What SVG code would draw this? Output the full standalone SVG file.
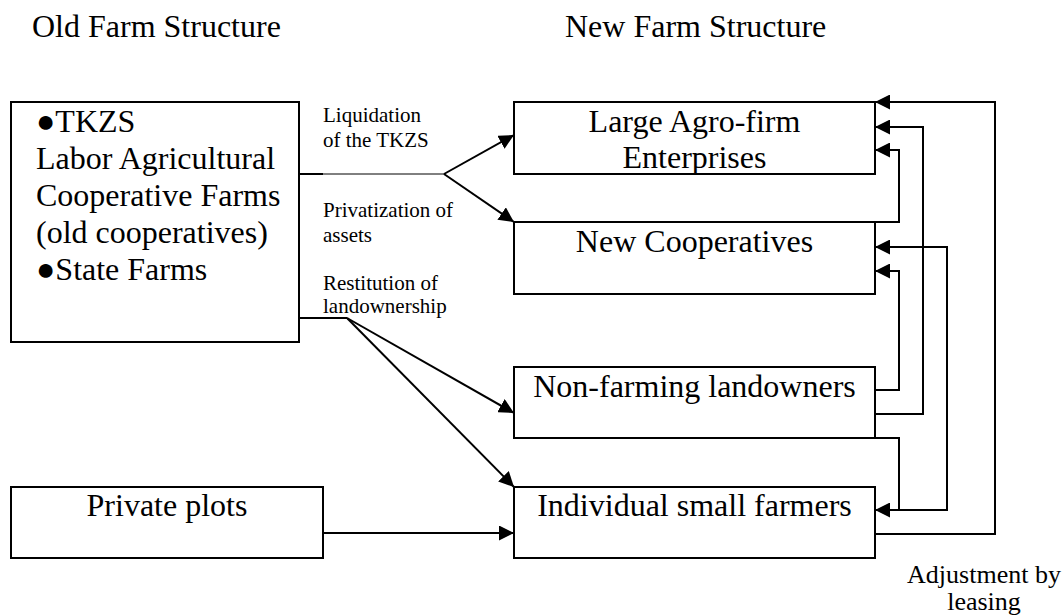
<svg xmlns="http://www.w3.org/2000/svg" width="1064" height="616" viewBox="0 0 1064 616">
<style>
.box{fill:#fff;stroke:#000;stroke-width:2}
.t{font-family:"Liberation Serif","Times New Roman",serif;font-size:32px;fill:#000}
.c{text-anchor:middle}
.s{font-family:"Liberation Serif","Times New Roman",serif;font-size:21px;fill:#000}
.a{font-family:"Liberation Serif","Times New Roman",serif;font-size:26px;fill:#000;text-anchor:middle}
.ln{fill:none;stroke:#000;stroke-width:2}
.arr{marker-end:url(#ah)}
</style>
<defs>
<marker id="ah" markerUnits="userSpaceOnUse" markerWidth="15" markerHeight="15" refX="15" refY="7.5" orient="auto" viewBox="0 0 15 15">
<path d="M0,0 L15,7.5 L0,15 z" fill="#000"/>
</marker>
</defs>
<rect width="1064" height="616" fill="#fff"/>
<text class="t" x="32" y="37">Old Farm Structure</text>
<text class="t" x="565" y="37">New Farm Structure</text>

<g id="old">
<rect class="box" x="11" y="102" width="288" height="240"/>
<text class="t" x="36" y="132">●TKZS</text>
<text class="t" x="36" y="169">Labor Agricultural</text>
<text class="t" x="36" y="206">Cooperative Farms</text>
<text class="t" x="36" y="243">(old cooperatives)</text>
<text class="t" x="36" y="280">●State Farms</text>
</g>
<g id="private">
<rect class="box" x="11" y="487" width="312" height="71"/>
<text class="t c" x="167" y="516">Private plots</text>
</g>
<g id="large">
<rect class="box" x="514" y="102" width="361" height="72"/>
<text class="t c" x="694.5" y="132">Large Agro-firm</text>
<text class="t c" x="694.5" y="168">Enterprises</text>
</g>
<g id="newcoop">
<rect class="box" x="514" y="222" width="361" height="72"/>
<text class="t c" x="694.5" y="252">New Cooperatives</text>
</g>
<g id="nonfarm">
<rect class="box" x="514" y="367" width="361" height="71"/>
<text class="t c" x="694.5" y="397">Non-farming landowners</text>
</g>
<g id="indiv">
<rect class="box" x="514" y="487" width="361" height="71"/>
<text class="t c" x="694.5" y="516">Individual small farmers</text>
</g>

<g id="connectors">
<path class="ln" d="M299,174 H323"/>
<path fill="none" stroke="#000" stroke-width="1" d="M323,174 H444"/>
<path class="ln arr" d="M444,174 L514,135"/>
<path class="ln arr" d="M444,174 L514,222"/>
<path class="ln" d="M299,318 H347"/>
<path class="ln arr" d="M347,318 L514,413"/>
<path class="ln arr" d="M347,318 L514,487"/>
<path class="ln arr" d="M323,533 H514"/>
<path class="ln arr" d="M875,534 H995 V102 H875"/>
<path class="ln arr" d="M875,414 H923 V127 H875"/>
<path class="ln arr" d="M875,222 H899 V150 H875"/>
<path class="ln arr" d="M875,390 H899 V271 H875"/>
<path class="ln arr" d="M875,438 H899 V510 H875"/>
<path class="ln arr" d="M899,510 H947 V247 H875"/>
</g>
<text class="s" x="323" y="122">Liquidation</text>
<text class="s" x="323" y="147">of the TKZS</text>
<text class="s" x="323" y="217">Privatization of</text>
<text class="s" x="323" y="242">assets</text>
<text class="s" x="323" y="290">Restitution of</text>
<text class="s" x="323" y="313">landownership</text>
<text class="a" x="984" y="583">Adjustment by</text>
<text class="a" x="984" y="610">leasing</text>
</svg>
